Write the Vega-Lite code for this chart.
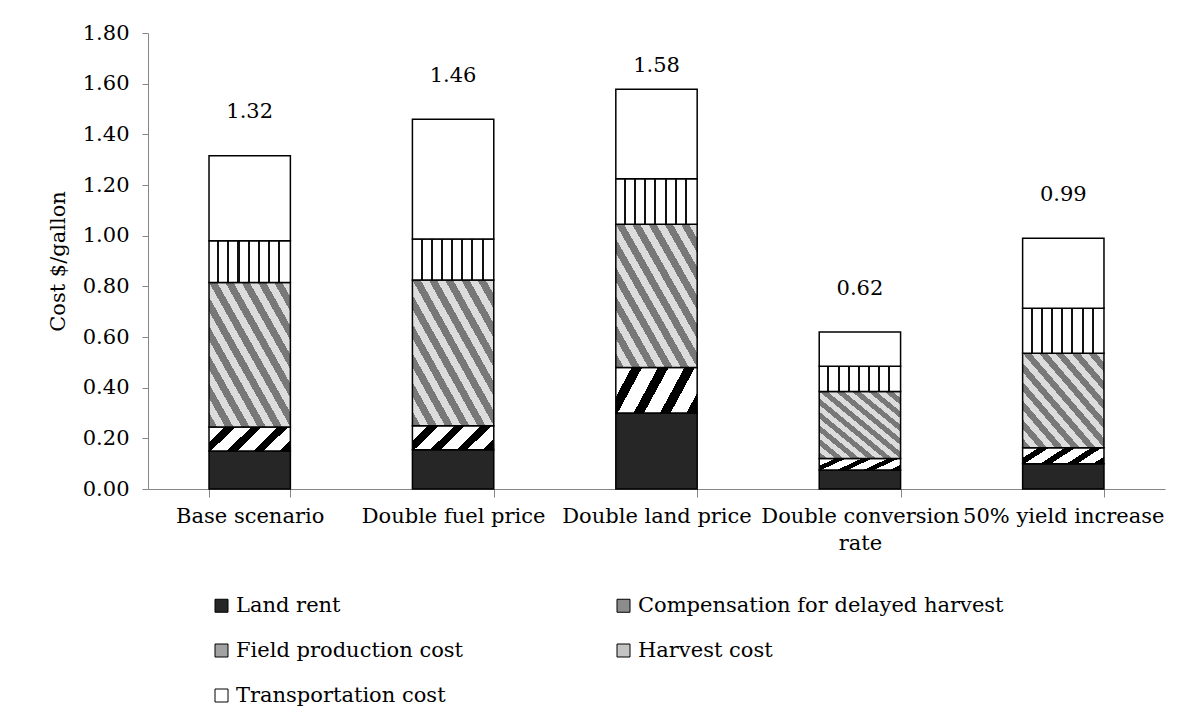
{
  "$schema": "https://vega.github.io/schema/vega-lite/v6.json",
  "width": 1017,
  "height": 456,
  "autosize": {"type": "none"},
  "padding": {"left": 148, "top": 33, "right": 21, "bottom": 239},
  "background": "white",
  "config": {
    "font": "DejaVu Serif",
    "view": {"stroke": null},
    "axis": {
      "labelFont": "DejaVu Serif",
      "titleFont": "DejaVu Serif",
      "labelColor": "#000",
      "titleColor": "#000",
      "domainColor": "#868686",
      "tickColor": "#868686",
      "grid": false
    }
  },
  "datasets": {
    "costs": [
      {"scenario": "Base scenario", "component": "Land rent", "layer": 1, "cost": 0.15},
      {"scenario": "Base scenario", "component": "Compensation for delayed harvest", "layer": 2, "cost": 0.095},
      {"scenario": "Base scenario", "component": "Field production cost", "layer": 3, "cost": 0.57},
      {"scenario": "Base scenario", "component": "Harvest cost", "layer": 4, "cost": 0.165},
      {"scenario": "Base scenario", "component": "Transportation cost", "layer": 5, "cost": 0.335},
      {"scenario": "Double fuel price", "component": "Land rent", "layer": 1, "cost": 0.155},
      {"scenario": "Double fuel price", "component": "Compensation for delayed harvest", "layer": 2, "cost": 0.095},
      {"scenario": "Double fuel price", "component": "Field production cost", "layer": 3, "cost": 0.575},
      {"scenario": "Double fuel price", "component": "Harvest cost", "layer": 4, "cost": 0.162},
      {"scenario": "Double fuel price", "component": "Transportation cost", "layer": 5, "cost": 0.473},
      {"scenario": "Double land price", "component": "Land rent", "layer": 1, "cost": 0.30},
      {"scenario": "Double land price", "component": "Compensation for delayed harvest", "layer": 2, "cost": 0.18},
      {"scenario": "Double land price", "component": "Field production cost", "layer": 3, "cost": 0.565},
      {"scenario": "Double land price", "component": "Harvest cost", "layer": 4, "cost": 0.18},
      {"scenario": "Double land price", "component": "Transportation cost", "layer": 5, "cost": 0.353},
      {"scenario": "Double conversion rate", "component": "Land rent", "layer": 1, "cost": 0.075},
      {"scenario": "Double conversion rate", "component": "Compensation for delayed harvest", "layer": 2, "cost": 0.045},
      {"scenario": "Double conversion rate", "component": "Field production cost", "layer": 3, "cost": 0.265},
      {"scenario": "Double conversion rate", "component": "Harvest cost", "layer": 4, "cost": 0.10},
      {"scenario": "Double conversion rate", "component": "Transportation cost", "layer": 5, "cost": 0.135},
      {"scenario": "50% yield increase", "component": "Land rent", "layer": 1, "cost": 0.10},
      {"scenario": "50% yield increase", "component": "Compensation for delayed harvest", "layer": 2, "cost": 0.063},
      {"scenario": "50% yield increase", "component": "Field production cost", "layer": 3, "cost": 0.373},
      {"scenario": "50% yield increase", "component": "Harvest cost", "layer": 4, "cost": 0.177},
      {"scenario": "50% yield increase", "component": "Transportation cost", "layer": 5, "cost": 0.277}
    ],
    "totals": [
      {"scenario": "Base scenario", "total": 1.32},
      {"scenario": "Double fuel price", "total": 1.46},
      {"scenario": "Double land price", "total": 1.58},
      {"scenario": "Double conversion rate", "total": 0.62},
      {"scenario": "50% yield increase", "total": 0.99}
    ]
  },
  "layer": [
    {
      "data": {"name": "costs"},
      "mark": {"type": "bar", "stroke": "#000", "strokeWidth": 1.5},
      "encoding": {
        "x": {
          "field": "scenario",
          "type": "nominal",
          "sort": ["Base scenario", "Double fuel price", "Double land price", "Double conversion rate", "50% yield increase"],
          "scale": {"paddingInner": 0.6, "paddingOuter": 0.3},
          "axis": {
            "title": null,
            "labelAngle": 0,
            "labelFontSize": 21,
            "labelLimit": 400,
            "tickBand": "extent",
            "tickSize": 8,
            "labelPadding": 8,
            "labelBaseline": "top",
            "labelLineHeight": 27,
            "labelExpr": "datum.label == 'Double conversion rate' ? ['Double conversion', 'rate'] : datum.label"
          }
        },
        "y": {
          "field": "cost",
          "type": "quantitative",
          "stack": "zero",
          "scale": {"domain": [0, 1.8]},
          "axis": {
            "title": "Cost $/gallon",
            "titleFontSize": 21,
            "titleFontWeight": "normal",
            "titlePadding": 14,
            "labelFontSize": 21,
            "format": ".2f",
            "values": [0, 0.2, 0.4, 0.6, 0.8, 1.0, 1.2, 1.4, 1.6, 1.8],
            "tickSize": 6,
            "labelPadding": 13
          }
        },
        "fill": {
          "field": "component",
          "type": "nominal",
          "condition": [
            {"test": "datum.component === 'Compensation for delayed harvest'", "value": {"gradient": "linear", "x1": 0, "y1": 0, "x2": 1.19, "y2": 0.36, "stops": [
                {"offset": 0, "color": "#fff"}, {"offset": 0.15, "color": "#fff"}, {"offset": 0.15, "color": "#000"}, {"offset": 0.25, "color": "#000"},
                {"offset": 0.25, "color": "#fff"}, {"offset": 0.4, "color": "#fff"}, {"offset": 0.4, "color": "#000"}, {"offset": 0.5, "color": "#000"},
                {"offset": 0.5, "color": "#fff"}, {"offset": 0.65, "color": "#fff"}, {"offset": 0.65, "color": "#000"}, {"offset": 0.75, "color": "#000"},
                {"offset": 0.75, "color": "#fff"}, {"offset": 0.9, "color": "#fff"}, {"offset": 0.9, "color": "#000"}, {"offset": 1, "color": "#000"}
              ]}},
            {"test": "datum.component === 'Field production cost'", "value": {"gradient": "linear", "x1": 0, "y1": 1, "x2": 1, "y2": 0, "stops": [
                {"offset": 0, "color": "#787878"}, {"offset": 0.05, "color": "#787878"}, {"offset": 0.05, "color": "#dcdcdc"}, {"offset": 0.1, "color": "#dcdcdc"},
                {"offset": 0.1, "color": "#787878"}, {"offset": 0.15, "color": "#787878"}, {"offset": 0.15, "color": "#dcdcdc"}, {"offset": 0.2, "color": "#dcdcdc"},
                {"offset": 0.2, "color": "#787878"}, {"offset": 0.25, "color": "#787878"}, {"offset": 0.25, "color": "#dcdcdc"}, {"offset": 0.3, "color": "#dcdcdc"},
                {"offset": 0.3, "color": "#787878"}, {"offset": 0.35, "color": "#787878"}, {"offset": 0.35, "color": "#dcdcdc"}, {"offset": 0.4, "color": "#dcdcdc"},
                {"offset": 0.4, "color": "#787878"}, {"offset": 0.45, "color": "#787878"}, {"offset": 0.45, "color": "#dcdcdc"}, {"offset": 0.5, "color": "#dcdcdc"},
                {"offset": 0.5, "color": "#787878"}, {"offset": 0.55, "color": "#787878"}, {"offset": 0.55, "color": "#dcdcdc"}, {"offset": 0.6, "color": "#dcdcdc"},
                {"offset": 0.6, "color": "#787878"}, {"offset": 0.65, "color": "#787878"}, {"offset": 0.65, "color": "#dcdcdc"}, {"offset": 0.7, "color": "#dcdcdc"},
                {"offset": 0.7, "color": "#787878"}, {"offset": 0.75, "color": "#787878"}, {"offset": 0.75, "color": "#dcdcdc"}, {"offset": 0.8, "color": "#dcdcdc"},
                {"offset": 0.8, "color": "#787878"}, {"offset": 0.85, "color": "#787878"}, {"offset": 0.85, "color": "#dcdcdc"}, {"offset": 0.9, "color": "#dcdcdc"},
                {"offset": 0.9, "color": "#787878"}, {"offset": 0.95, "color": "#787878"}, {"offset": 0.95, "color": "#dcdcdc"}, {"offset": 1, "color": "#dcdcdc"}
              ]}},
            {"test": "datum.component === 'Harvest cost'", "value": {"gradient": "linear", "x1": 0, "y1": 0, "x2": 1, "y2": 0, "stops": [
                {"offset": 0, "color": "#fff"}, {"offset": 0.1, "color": "#fff"}, {"offset": 0.1, "color": "#111"}, {"offset": 0.125, "color": "#111"},
                {"offset": 0.125, "color": "#fff"}, {"offset": 0.225, "color": "#fff"}, {"offset": 0.225, "color": "#111"}, {"offset": 0.25, "color": "#111"},
                {"offset": 0.25, "color": "#fff"}, {"offset": 0.35, "color": "#fff"}, {"offset": 0.35, "color": "#111"}, {"offset": 0.375, "color": "#111"},
                {"offset": 0.375, "color": "#fff"}, {"offset": 0.475, "color": "#fff"}, {"offset": 0.475, "color": "#111"}, {"offset": 0.5, "color": "#111"},
                {"offset": 0.5, "color": "#fff"}, {"offset": 0.6, "color": "#fff"}, {"offset": 0.6, "color": "#111"}, {"offset": 0.625, "color": "#111"},
                {"offset": 0.625, "color": "#fff"}, {"offset": 0.725, "color": "#fff"}, {"offset": 0.725, "color": "#111"}, {"offset": 0.75, "color": "#111"},
                {"offset": 0.75, "color": "#fff"}, {"offset": 0.85, "color": "#fff"}, {"offset": 0.85, "color": "#111"}, {"offset": 0.875, "color": "#111"},
                {"offset": 0.875, "color": "#fff"}, {"offset": 1, "color": "#fff"}
              ]}}
          ],
          "scale": {
            "domain": ["Land rent", "Compensation for delayed harvest", "Field production cost", "Harvest cost", "Transportation cost"],
            "range": ["#262626", "#8c8c8c", "#a2a2a2", "#c4c4c4", "#ffffff"]
          },
          "legend": {
            "title": null,
            "orient": "none",
            "direction": "horizontal",
            "legendX": 63,
            "legendY": 562,
            "columns": 2,
            "columnPadding": 149,
            "rowPadding": 23,
            "symbolType": "square",
            "symbolSize": 169,
            "symbolStrokeColor": "#000",
            "symbolStrokeWidth": 1,
            "labelFont": "DejaVu Serif",
            "labelFontSize": 21,
            "labelColor": "#000",
            "labelOffset": 4,
            "labelLimit": 500
          }
        },
        "order": {"field": "layer", "type": "quantitative"}
      }
    },
    {
      "data": {"name": "totals"},
      "transform": [{"filter": "datum.scenario !== 'Double land price'"}],
      "mark": {"type": "text", "dy": -43, "fontSize": 21, "baseline": "middle", "font": "DejaVu Serif", "color": "#000"},
      "encoding": {
        "x": {"field": "scenario", "type": "nominal", "sort": ["Base scenario", "Double fuel price", "Double land price", "Double conversion rate", "50% yield increase"]},
        "y": {"field": "total", "type": "quantitative"},
        "text": {"field": "total", "type": "quantitative", "format": ".2f"}
      }
    },
    {
      "data": {"name": "totals"},
      "transform": [{"filter": "datum.scenario === 'Double land price'"}],
      "mark": {"type": "text", "dy": -23, "fontSize": 21, "baseline": "middle", "font": "DejaVu Serif", "color": "#000"},
      "encoding": {
        "x": {"field": "scenario", "type": "nominal", "sort": ["Base scenario", "Double fuel price", "Double land price", "Double conversion rate", "50% yield increase"]},
        "y": {"field": "total", "type": "quantitative"},
        "text": {"field": "total", "type": "quantitative", "format": ".2f"}
      }
    }
  ]
}
